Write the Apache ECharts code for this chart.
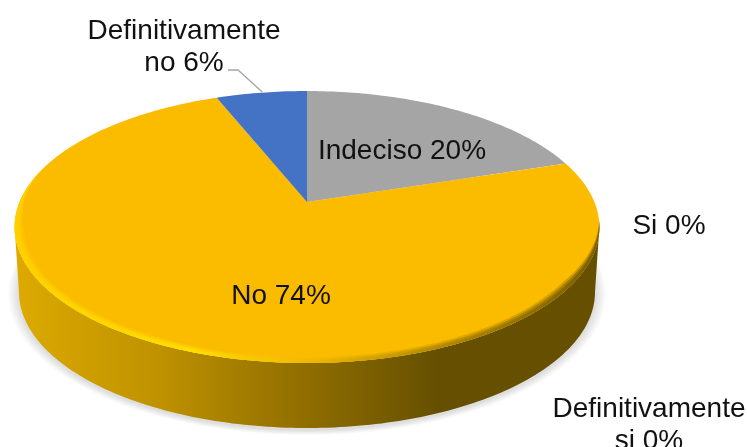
<!DOCTYPE html>
<html>
<head>
<meta charset="utf-8">
<style>
  html, body { margin: 0; padding: 0; background: #fff; }
  #pie3d { width: 747px; height: 447px; }
</style>
<script src="https://cdn.jsdelivr.net/npm/echarts@6/dist/echarts.min.js"></script>
</head>
<body>
<div id="pie3d"></div>
<script>
  // data, in drawing order (clockwise from 12 o'clock)
  var categories = ['Definitivamente\nsi', 'Si', 'Indeciso', 'No', 'Definitivamente\nno'];
  var values = [0, 0, 20, 74, 6];

  var sliceColors = ['#ED7D31', '#5B9BD5', '#A5A5A5', '#FBBC00', '#4472C4'];
  // label centres [x, y], px
  var labelPos = [[649, 425], [669, 226], [402, 151], [281, 296], [184, 47]];

  var FONT = '"Liberation Sans", Arial, sans-serif';
  var cx = 307, cy = 202;
  var A = 131.4, B = 287.4, K = -0.184; // perspective of the pie plane
  var DEPTH = 65, BOTTOM_SCALE = 0.985;

  var total = values.reduce(function (a, b) { return a + b; }, 0);

  // deg clockwise from top, r in unit disc -> screen
  function project(deg, r) {
    var t = deg * Math.PI / 180;
    var u = r * Math.sin(t), v = -r * Math.cos(t);
    var w = 1 + K * v;
    return [cx + B * u / w, cy + A * v / w];
  }
  function projectBottom(deg) {
    var p = project(deg, 1);
    return [cx + (p[0] - cx) * BOTTOM_SCALE, p[1] + DEPTH];
  }
  function arc(fn, from, to, r) {
    var pts = [], n = Math.max(2, Math.ceil(Math.abs(to - from)));
    for (var i = 0; i <= n; i++) {
      pts.push(fn(from + (to - from) * i / n, r));
    }
    return pts;
  }
  function sliceStart(idx) {
    var sum = 0;
    for (var i = 0; i < idx; i++) sum += values[i];
    return sum / total * 360;
  }
  function hgrad(stops) {
    return new echarts.graphic.LinearGradient(15, 0, 600, 0, stops, true);
  }

  // soft grey shadow under the disc, stacked see-through ellipses
  function renderShadow() {
    var layers = [], ey = cy + 25 + DEPTH;
    for (var d = 1; d <= 11; d++) {
      var grow = 1 + d / 287;
      layers.push({
        type: 'polygon',
        shape: {
          points: arc(projectBottom, 0, 360).map(function (p) {
            return [cx + (p[0] - cx) * grow, ey + (p[1] - ey) * grow + 2];
          })
        },
        style: { fill: '#000', opacity: 0.013 }
      });
    }
    return { type: 'group', children: layers };
  }

  // angles where the top ellipse has its left and right extremes
  var FRONT_FROM = 100.6, FRONT_TO = 259.4;

  function renderWall(params) {
    var a0 = sliceStart(params.dataIndex), a1 = a0 + values[params.dataIndex] / total * 360;
    var from = Math.max(a0, FRONT_FROM), to = Math.min(a1, FRONT_TO);
    if (to <= from) return { type: 'group', children: [] };
    var pts = arc(project, from, to, 1).concat(arc(projectBottom, to, from));
    return {
      type: 'polygon',
      shape: { points: pts },
      style: {
        fill: hgrad([
          { offset: 0, color: '#DDAA00' },
          { offset: 0.25, color: '#BE9100' },
          { offset: 0.5, color: '#8F6D00' },
          { offset: 0.72, color: '#665000' },
          { offset: 1, color: '#665000' }
        ])
      }
    };
  }

  function renderSlice(params) {
    var idx = params.dataIndex, children = [];
    var a0 = sliceStart(idx), a1 = a0 + values[idx] / total * 360;
    if (values[idx] > 0) {
      children.push({
        type: 'polygon',
        shape: { points: [[cx, cy]].concat(arc(project, a0, a1, 1)) },
        style: { fill: sliceColors[idx] }
      });
    }
    return { type: 'group', children: children };
  }

  // light edge along the front of the top face, thinning out at both ends
  function renderBevel() {
    var from = 98, to = 285;
    function ring(width, opacity) {
      var inner = [], n = to - from;
      for (var i = 0; i <= n; i++) {
        var s = i / n;
        var fade = Math.min(1, Math.min(s, 1 - s) * 7);
        inner.unshift(project(from + n * s, 1 - width * fade));
      }
      return {
        type: 'polygon',
        shape: { points: arc(project, from, to, 1).concat(inner) },
        style: {
          opacity: opacity,
          fill: hgrad([
            { offset: 0, color: '#FFD000' },
            { offset: 0.3, color: '#FFDD00' },
            { offset: 0.5, color: '#F0B800' },
            { offset: 0.72, color: '#B58B00' },
            { offset: 0.9, color: '#8F6D00' },
            { offset: 1, color: '#7A5E00' }
          ])
        }
      };
    }
    return {
      type: 'group',
      children: [ring(0.03, 0.35), ring(0.022, 0.6), ring(0.014, 1)]
    };
  }

  function renderLabel(params) {
    var idx = params.dataIndex, children = [];
    children.push({
      type: 'text',
      style: {
        text: categories[idx] + ' ' + values[idx] + '%',
        x: labelPos[idx][0],
        y: labelPos[idx][1],
        align: 'center',
        verticalAlign: 'middle',
        fontFamily: FONT,
        fontSize: 28,
        lineHeight: 32,
        fill: '#111'
      }
    });
    if (idx === 4) {
      children.push({
        type: 'polyline',
        shape: { points: [[228, 70], [238, 70], [project(sliceStart(4) + 11, 1)[0], 92]] },
        style: { stroke: '#A6A6A6', lineWidth: 1.3, fill: null }
      });
    }
    return { type: 'group', children: children };
  }

  var chart = echarts.init(document.getElementById('pie3d'));
  var data = values.map(function (v, i) { return { name: categories[i], value: v }; });

  chart.setOption({
    animation: false,
    backgroundColor: '#fff',
    series: [
      { type: 'custom', coordinateSystem: 'none', z: 0, data: [1], renderItem: renderShadow },
      { type: 'custom', coordinateSystem: 'none', z: 1, data: data, renderItem: renderWall },
      { type: 'custom', coordinateSystem: 'none', z: 2, data: data, renderItem: renderSlice },
      { type: 'custom', coordinateSystem: 'none', z: 3, data: [1], renderItem: renderBevel },
      { type: 'custom', coordinateSystem: 'none', z: 4, data: data, renderItem: renderLabel }
    ]
  });
</script>
</body>
</html>
